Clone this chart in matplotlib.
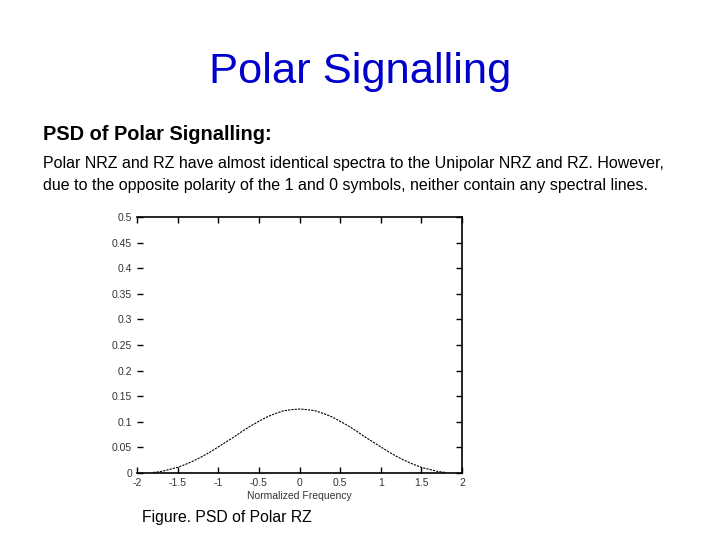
import matplotlib
matplotlib.use('Agg')
import matplotlib.pyplot as plt

plt.rcParams['font.family'] = ['Liberation Sans', 'DejaVu Sans']

# PSD (normalized frequency vs. PSD)
freq = [-1.8, -1.7, -1.6, -1.5, -1.4, -1.3, -1.2, -1.1, -1.0, -0.9, -0.8, -0.7,
        -0.6, -0.5, -0.4, -0.3, -0.2, -0.1, 0.0, 0.1, 0.2, 0.3, 0.4, 0.5, 0.6,
        0.7, 0.8, 0.9, 1.0, 1.1, 1.2, 1.3, 1.4, 1.5, 1.6, 1.7, 1.8]
psd = [0.001, 0.003, 0.007, 0.011, 0.017, 0.024, 0.032, 0.041, 0.051, 0.061,
       0.071, 0.082, 0.092, 0.101, 0.1095, 0.116, 0.1213, 0.1237, 0.125,
       0.1237, 0.1213, 0.116, 0.1095, 0.101, 0.092, 0.082, 0.071, 0.061,
       0.051, 0.041, 0.032, 0.024, 0.017, 0.011, 0.007, 0.003, 0.001]

xticks = [-2, -1.5, -1, -0.5, 0, 0.5, 1, 1.5, 2]
xticklabels = ['-2', '-1.5', '-1', '-0.5', '0', '0.5', '1', '1.5', '2']
yticks = [0, 0.05, 0.1, 0.15, 0.2, 0.25, 0.3, 0.35, 0.4, 0.45, 0.5]
yticklabels = ['0', '0.05', '0.1', '0.15', '0.2', '0.25', '0.3', '0.35', '0.4', '0.45', '0.5']

fig = plt.figure(figsize=(7.2, 5.4), dpi=100)

fig.text(0.5, 0.866, 'Polar Signalling', ha='center', va='center',
         fontsize=31.3, color='#0000cc')
fig.text(0.06, 0.75, 'PSD of Polar Signalling:', ha='left', va='center',
         fontsize=14.4, fontweight='bold')
fig.text(0.06, 0.697,
         'Polar NRZ and RZ have almost identical spectra to the Unipolar NRZ and RZ. However,',
         ha='left', va='center', fontsize=11.5)
fig.text(0.06, 0.656,
         'due to the opposite polarity of the 1 and 0 symbols, neither contain any spectral lines.',
         ha='left', va='center', fontsize=11.5)
fig.text(0.197, 0.041, 'Figure. PSD of Polar RZ', ha='left', va='center', fontsize=11.3)

ax = fig.add_axes([0.1903, 0.1241, 0.4514, 0.474])
ax.plot(freq, psd, color='black', linewidth=0.8, linestyle=(0, (2, 1)))
ax.set_xlim(-2, 2)
ax.set_ylim(0, 0.5)
ax.set_xticks(xticks)
ax.set_xticklabels(xticklabels)
ax.set_yticks(yticks)
ax.set_yticklabels(yticklabels)
ax.spines['left'].set_visible(False)
for s in ['top', 'right', 'bottom']:
    ax.spines[s].set_linewidth(1.2)
ax.tick_params(direction='in', top=True, right=True, labelsize=7.5,
               labelcolor='#333333', length=4, width=1)
ax.set_xlabel('Normalized Frequency', fontsize=7.5, color='#333333', labelpad=2)

fig.savefig('out.png', dpi=100)
